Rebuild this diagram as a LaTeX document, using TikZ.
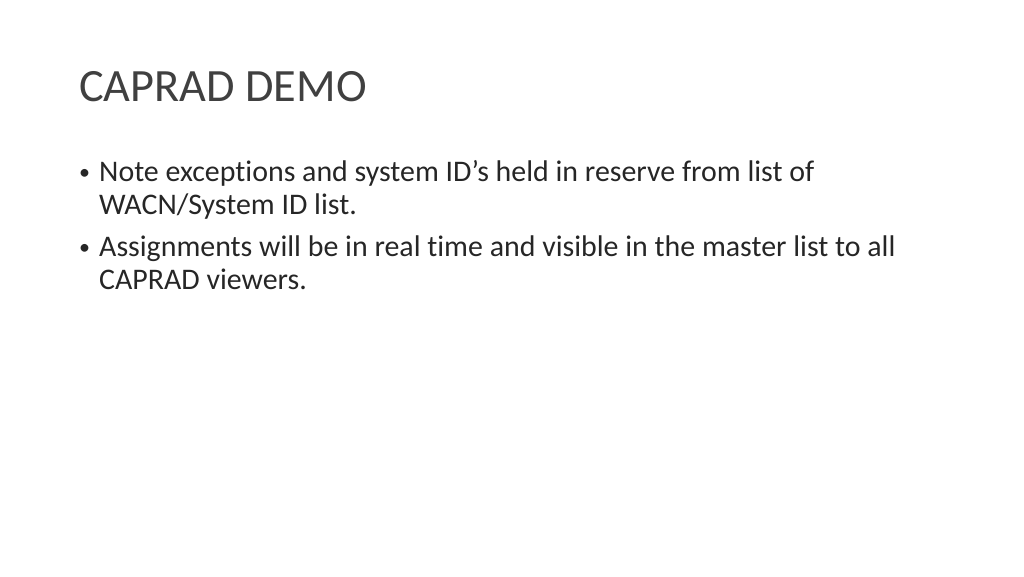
\documentclass[tikz,border=0pt]{standalone}
\usepackage{fontspec}
\setmainfont[Ligatures={NoCommon}]{Carlito}
\begin{document}
\begin{tikzpicture}[x=1pt,y=-1pt,
  title/.style={anchor=base west,inner sep=0pt,font=\fontsize{46.3}{50}\selectfont,text=black!75},
  body/.style={anchor=base west,inner sep=0pt,font=\fontsize{29.9}{34}\selectfont,text=black!85},
  bul/.style={anchor=base west,inner sep=0pt,font=\fontsize{22}{26}\selectfont,text=black!85}]
\useasboundingbox (0,0) rectangle (1024,576);
\node[title] (t) at (79,101) {CAPRAD DEMO};
\node[bul] (b1) at (79,179) {\textbullet};
\node[body] (l1) at (99,181) {Note exceptions and system ID’s held in reserve from list of};
\node[body] (l2) at (99,214) {WACN/System ID list.};
\node[bul] (b2) at (79,254) {\textbullet};
\node[body] (l3) at (99,256) {Assignments will be in real time and visible in the master list to all};
\node[body] (l4) at (99,289) {CAPRAD viewers.};
\end{tikzpicture}
\end{document}
